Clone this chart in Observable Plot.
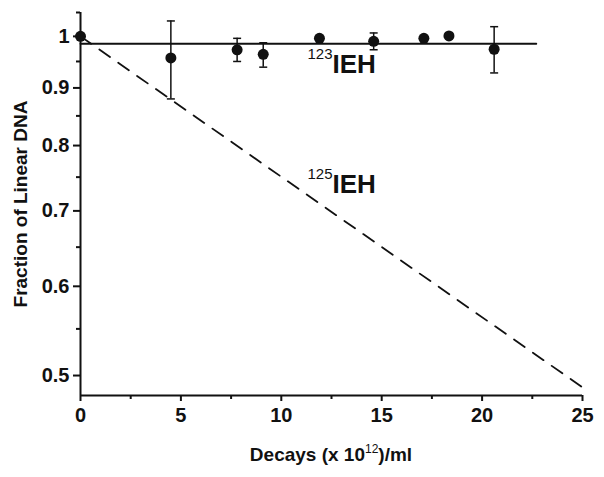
<!DOCTYPE html>
<html>
<head>
<meta charset="utf-8">
<script src="https://cdn.jsdelivr.net/npm/d3@7"></script>
<script src="https://cdn.jsdelivr.net/npm/@observablehq/plot@0.6"></script>
<style>
  body { margin: 0; background: white; font-family: 'Liberation Sans', Arial, sans-serif; }
  #wrap { position: relative; width: 604px; height: 477px; }
  #xlabel { position: absolute; left: 80px; width: 502px; top: 445px; text-align: center;
            font-size: 19px; font-weight: bold; line-height: 19px; color: #111; }
  #xlabel sup { font-size: 12px; line-height: 0; vertical-align: 8px; font-weight: normal; }
</style>
</head>
<body>
<div id="wrap">
  <div id="chart"></div>
  <div id="xlabel">Decays (x 10<sup>12</sup>)/ml</div>
</div>
<script>
// Measured data (123IEH)
const decays   = [0, 4.5, 7.8, 9.1, 11.9, 14.6, 17.1, 18.35, 20.6];
const fraction = [1.0, 0.957, 0.973, 0.964, 0.996, 0.990, 0.996, 1.001, 0.974];
const errLow   = [null, 0.880, 0.950, 0.939, null, 0.973, null, null, 0.928];
const errHigh  = [null, 1.032, 0.996, 0.987, null, 1.007, null, null, 1.020];

// Fit lines
const fit123X = [0, 22.7];
const fit123Y = [0.985, 0.985];
const fit125X = [0, 25];
const fit125Y = [1.0, 0.488];

// Ticks
const xMajor = [0, 5, 10, 15, 20, 25];
const xMinor = [2.5, 7.5, 12.5, 17.5, 22.5];
const yMajor = [0.5, 0.6, 0.7, 0.8, 0.9, 1];
const yMinor = [0.55, 0.65, 0.75, 0.85, 0.95, 1.05];

// Curve labels
const labelIso  = ["123", "125"];
const labelName = ["IEH", "IEH"];
const labelX    = [12.55, 12.55];
const labelY    = [0.927, 0.7254];

const points = decays.map((x, i) => ({x, y: fraction[i], lo: errLow[i], hi: errHigh[i]}));
const errs = points.filter(d => d.lo != null);
const caps = errs.flatMap(d => [{x: d.x, y: d.lo}, {x: d.x, y: d.hi}]);
const fit123 = fit123X.map((x, i) => ({x, y: fit123Y[i]}));
const fit125 = fit125X.map((x, i) => ({x, y: fit125Y[i]}));
const labels = labelX.map((x, i) => ({x, y: labelY[i], iso: labelIso[i], name: labelName[i]}));

const capSymbol = { draw(ctx) { ctx.moveTo(-4, 0); ctx.lineTo(4, 0); } };
const ink = "#111";
const blank = () => "";

const chart = Plot.plot({
  width: 604,
  height: 440,
  marginLeft: 80,
  marginRight: 22,
  marginTop: 12,
  marginBottom: 45,
  style: { fontFamily: "'Liberation Sans', Arial, sans-serif", background: "white", color: ink },
  x: { domain: [0, 25] },
  y: { type: "log", domain: [0.48, 1.05] },
  marks: [
    Plot.axisX({ ticks: xMajor, tickSize: 6, tickPadding: 6, fontSize: 20, fontWeight: "bold", strokeWidth: 2, label: null, tickFormat: d => String(d) }),
    Plot.axisX({ ticks: xMinor, tickSize: 4, strokeWidth: 2, label: null, tickFormat: blank }),
    Plot.axisY({ ticks: yMajor, tickSize: 7, tickPadding: 4, fontSize: 20, fontWeight: "bold", strokeWidth: 2, label: null, tickFormat: d => d === 1 ? "1" : d.toFixed(1) }),
    Plot.axisY({ ticks: yMinor, tickSize: 4, strokeWidth: 2, label: null, tickFormat: blank }),
    Plot.ruleX([0], { stroke: ink, strokeWidth: 2 }),
    Plot.ruleY([0.48], { stroke: ink, strokeWidth: 2 }),
    Plot.line(fit123, { x: "x", y: "y", stroke: ink, strokeWidth: 1.8 }),
    Plot.line(fit125, { x: "x", y: "y", stroke: ink, strokeWidth: 1.8, strokeDasharray: "13,10" }),
    Plot.ruleX(errs, { x: "x", y1: "lo", y2: "hi", stroke: ink, strokeWidth: 1.5 }),
    Plot.dot(caps, { x: "x", y: "y", symbol: capSymbol, fill: "none", stroke: ink, strokeWidth: 1.5 }),
    Plot.dot(points, { x: "x", y: "y", r: 5.5, fill: ink, stroke: "none" }),
    Plot.text(labels, { x: "x", y: "y", text: "name", textAnchor: "start", lineAnchor: "bottom", fontSize: 26, fontWeight: "bold", fill: ink }),
    Plot.text(labels, { x: "x", y: "y", text: "iso", textAnchor: "end", lineAnchor: "bottom", dy: -14, fontSize: 15, fill: ink }),
    Plot.text(["Fraction of Linear DNA"], { frameAnchor: "left", textAnchor: "middle", lineAnchor: "middle", rotate: -90, dx: -60, fontSize: 19, fontWeight: "bold", fill: ink })
  ]
});
document.getElementById("chart").appendChild(chart);
</script>
</body>
</html>
